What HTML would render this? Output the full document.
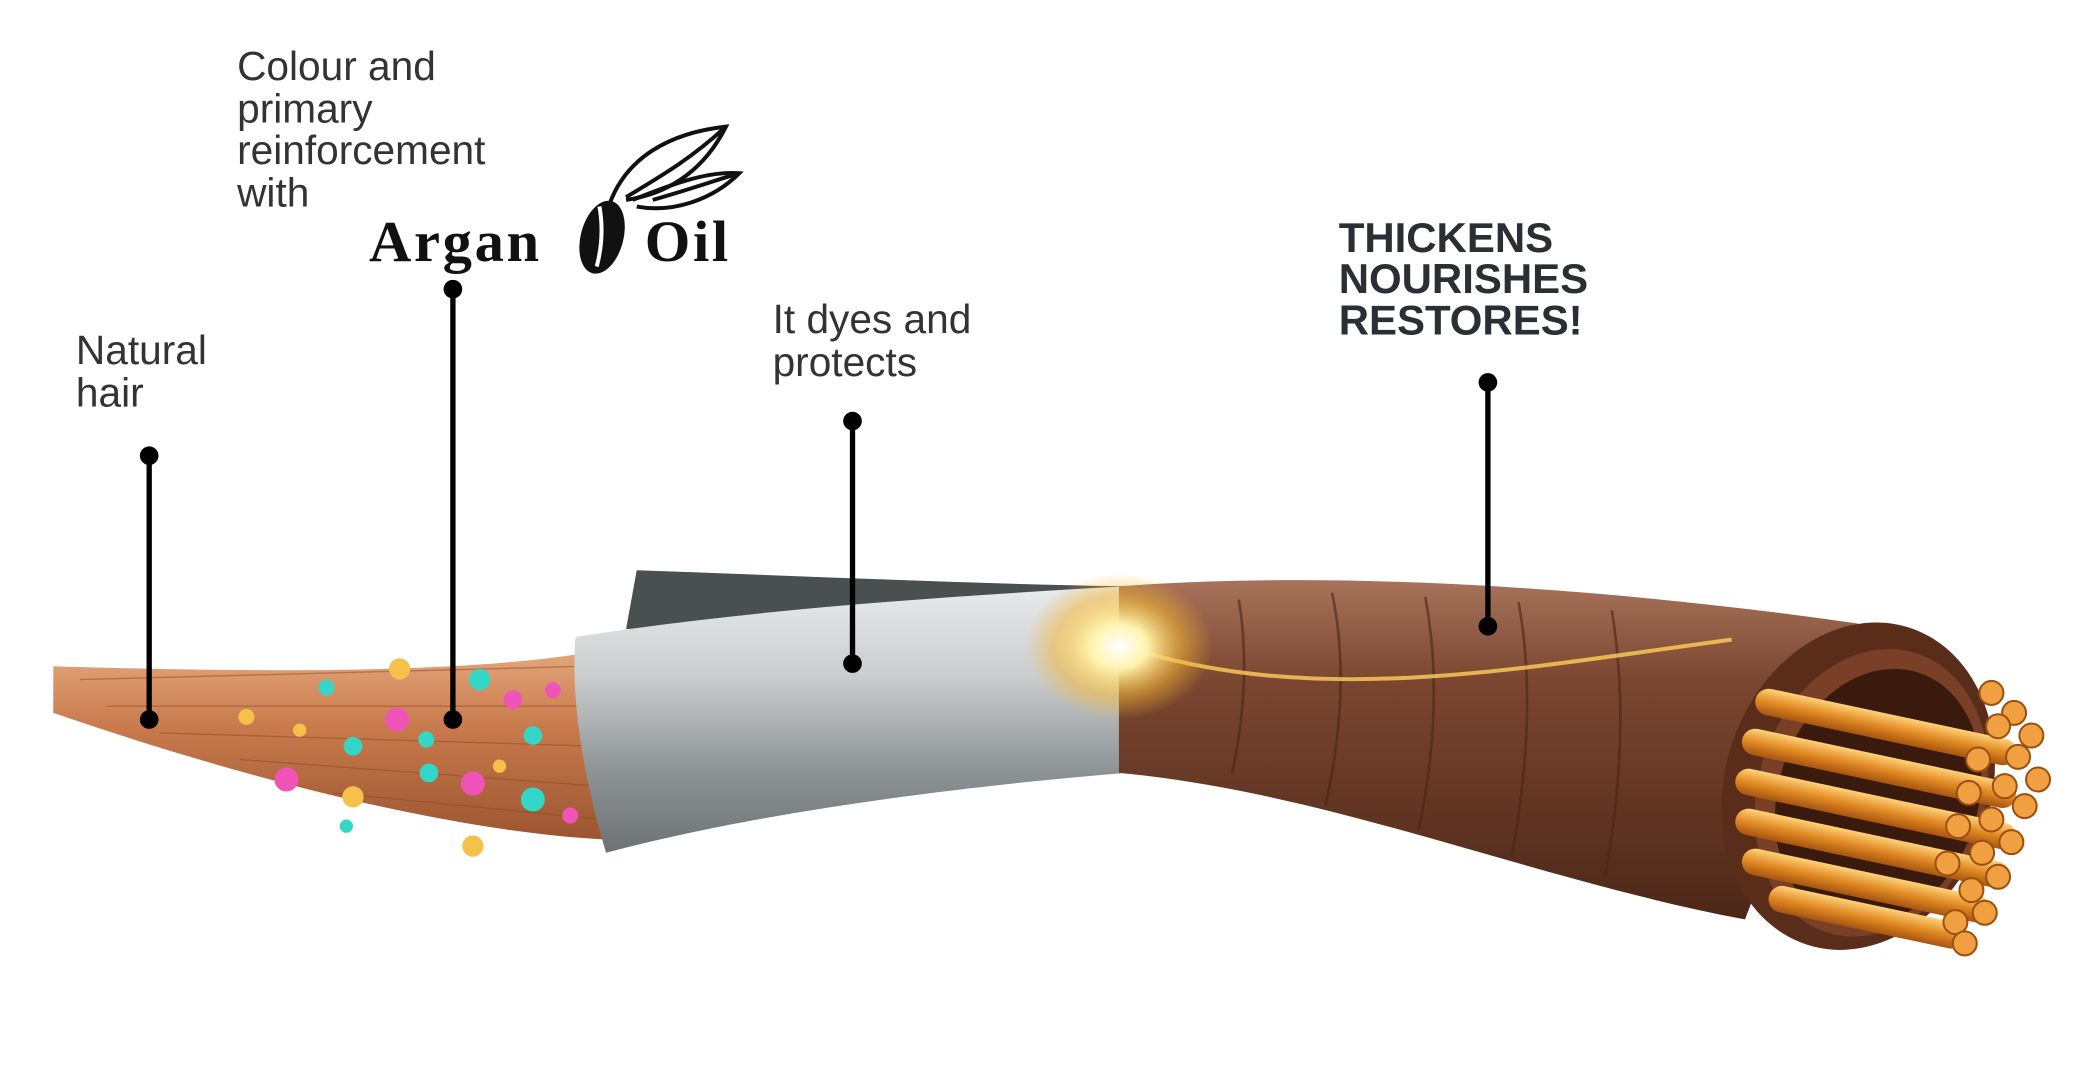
<!DOCTYPE html>
<html><head><meta charset="utf-8"><style>
html,body{margin:0;padding:0;background:#fff;}
svg{display:block}
</style></head><body>
<svg width="2078" height="1066" viewBox="0 0 1560 800" preserveAspectRatio="none" xmlns="http://www.w3.org/2000/svg">
<defs>
<linearGradient id="hair" x1="0" y1="0" x2="0" y2="1">
<stop offset="0" stop-color="#e3a57a"/><stop offset="0.4" stop-color="#c87a4c"/><stop offset="1" stop-color="#9b5530"/></linearGradient>
<linearGradient id="silver" x1="0" y1="0" x2="0" y2="1">
<stop offset="0" stop-color="#e8eaeb"/><stop offset="0.35" stop-color="#c9cccd"/><stop offset="0.7" stop-color="#8d9294"/><stop offset="1" stop-color="#6d7274"/></linearGradient>
<linearGradient id="brown" x1="0" y1="0" x2="0" y2="1">
<stop offset="0" stop-color="#a8735a"/><stop offset="0.3" stop-color="#7a4630"/><stop offset="1" stop-color="#4c2718"/></linearGradient>
<radialGradient id="glow" cx="0.5" cy="0.5" r="0.5">
<stop offset="0" stop-color="#fff"/><stop offset="0.3" stop-color="#fff4b0"/><stop offset="0.7" stop-color="#f5b730" stop-opacity="0.5"/><stop offset="1" stop-color="#f5b730" stop-opacity="0"/></radialGradient>
<linearGradient id="gold" x1="0" y1="0" x2="0" y2="1">
<stop offset="0" stop-color="#ffd37a"/><stop offset="0.5" stop-color="#e28b25"/><stop offset="1" stop-color="#a8550f"/></linearGradient>
</defs>

<path d="M40,500 C200,505 350,505 440,490 L455,630 C350,625 200,590 40,535 Z" fill="url(#hair)"/>
<g stroke="#8a4a25" stroke-width="1" opacity="0.5">
<path d="M60,510 L440,500"/><path d="M80,530 L445,530"/><path d="M120,550 L448,560"/><path d="M180,570 L450,590"/><path d="M250,595 L452,615"/>
</g>
<path d="M478,428 C600,432 720,438 845,440 L830,458 C700,458 580,468 470,472 Z" fill="#4a4f50"/>
<path d="M432,478 C560,458 700,448 845,440 L845,580 C700,592 560,612 455,640 C440,590 428,530 432,478 Z" fill="url(#silver)"/>
<path d="M840,440 C1000,428 1200,440 1395,468 L1310,690 C1150,660 1000,595 840,580 Z" fill="url(#brown)"/>
<g stroke="#4a2515" stroke-width="2" fill="none" opacity="0.6">
<path d="M930,450 q10,60 -5,130"/><path d="M1000,445 q15,70 -5,160"/><path d="M1070,448 q15,80 -5,175"/><path d="M1140,452 q15,80 -5,190"/><path d="M1210,458 q15,90 -5,200"/>
</g>
<path d="M860,490 C1000,530 1150,500 1300,480" stroke="#ffcf5a" stroke-width="3" fill="none" opacity="0.8"/>
<ellipse cx="1395" cy="590" rx="100" ry="125" transform="rotate(18 1395 590)" fill="#5a2d1a"/>
<ellipse cx="1405" cy="595" rx="85" ry="110" transform="rotate(18 1405 595)" fill="#7a4027"/>
<ellipse cx="1410" cy="598" rx="75" ry="98" transform="rotate(18 1410 598)" fill="#3a1a0d"/>
<g fill="url(#gold)">
<rect x="1320" y="515" width="200" height="20" rx="10" transform="rotate(12 1320 515)"/>
<rect x="1310" y="545" width="210" height="20" rx="10" transform="rotate(12 1310 545)"/>
<rect x="1305" y="575" width="215" height="20" rx="10" transform="rotate(12 1305 575)"/>
<rect x="1305" y="605" width="210" height="20" rx="10" transform="rotate(12 1305 605)"/>
<rect x="1310" y="635" width="190" height="20" rx="10" transform="rotate(12 1310 635)"/>
<rect x="1330" y="663" width="150" height="20" rx="10" transform="rotate(12 1330 663)"/>
</g>
<g fill="#f0a040" stroke="#9a4f10" stroke-width="1.5">
<circle cx="1495" cy="520" r="9"/><circle cx="1512" cy="535" r="9"/><circle cx="1525" cy="552" r="9"/><circle cx="1500" cy="545" r="9"/>
<circle cx="1515" cy="568" r="9"/><circle cx="1530" cy="585" r="9"/><circle cx="1505" cy="590" r="9"/><circle cx="1520" cy="605" r="9"/>
<circle cx="1495" cy="615" r="9"/><circle cx="1510" cy="632" r="9"/><circle cx="1488" cy="640" r="9"/><circle cx="1500" cy="658" r="9"/>
<circle cx="1480" cy="668" r="9"/><circle cx="1490" cy="685" r="9"/><circle cx="1468" cy="692" r="9"/><circle cx="1475" cy="708" r="9"/>
<circle cx="1485" cy="570" r="9"/><circle cx="1478" cy="595" r="9"/><circle cx="1470" cy="620" r="9"/><circle cx="1462" cy="648" r="9"/>
</g>
<ellipse cx="840" cy="485" rx="70" ry="55" fill="url(#glow)"/>
<g>
<circle cx="300" cy="502" r="8" fill="#f6c14a"/><circle cx="360" cy="510" r="8" fill="#34d6c8"/><circle cx="245" cy="516" r="6" fill="#34d6c8"/>
<circle cx="185" cy="538" r="6" fill="#f6c14a"/><circle cx="298" cy="540" r="9" fill="#f054b8"/><circle cx="385" cy="525" r="7" fill="#f054b8"/>
<circle cx="415" cy="518" r="6" fill="#f054b8"/><circle cx="265" cy="560" r="7" fill="#34d6c8"/><circle cx="320" cy="555" r="6" fill="#34d6c8"/>
<circle cx="215" cy="585" r="9" fill="#f054b8"/><circle cx="355" cy="588" r="9" fill="#f054b8"/><circle cx="400" cy="552" r="7" fill="#34d6c8"/>
<circle cx="265" cy="598" r="8" fill="#f6c14a"/><circle cx="400" cy="600" r="9" fill="#34d6c8"/><circle cx="428" cy="612" r="6" fill="#f054b8"/>
<circle cx="355" cy="635" r="8" fill="#f6c14a"/><circle cx="260" cy="620" r="5" fill="#34d6c8"/><circle cx="225" cy="548" r="5" fill="#f6c14a"/>
<circle cx="322" cy="580" r="7" fill="#34d6c8"/><circle cx="375" cy="575" r="5" fill="#f6c14a"/>
</g>
<g stroke="#000" stroke-width="4">
<line x1="112" y1="342" x2="112" y2="540"/><line x1="340" y1="217" x2="340" y2="540"/>
<line x1="640" y1="316" x2="640" y2="498"/><line x1="1117" y1="287" x2="1117" y2="470"/>
</g>
<g fill="#000">
<circle cx="112" cy="342" r="7"/><circle cx="112" cy="540" r="7"/><circle cx="340" cy="217" r="7"/><circle cx="340" cy="540" r="7"/>
<circle cx="640" cy="316" r="7"/><circle cx="640" cy="498" r="7"/><circle cx="1117" cy="287" r="7"/><circle cx="1117" cy="470" r="7"/>
</g>
<g font-family="Liberation Sans, sans-serif" font-size="30.5" fill="#333">
<text x="178" y="60">Colour and</text><text x="178" y="92">primary</text><text x="178" y="123">reinforcement</text><text x="178" y="155">with</text>
<text x="57" y="273">Natural</text><text x="57" y="305">hair</text>
<text x="580" y="250">It dyes and</text><text x="580" y="282">protects</text>
</g>
<g font-family="Liberation Sans, sans-serif" font-size="31.5" font-weight="bold" fill="#2a2f33">
<text x="1005" y="189">THICKENS</text><text x="1005" y="220">NOURISHES</text><text x="1005" y="251">RESTORES!</text>
</g>
<g font-family="Liberation Serif, serif" font-size="44" font-weight="bold" fill="#111" letter-spacing="2">
<text x="277" y="196">Argan</text><text x="484" y="196">Oil</text>
</g>
<ellipse cx="452" cy="178" rx="16" ry="28" transform="rotate(15 452 178)" fill="#111"/>
<path d="M450,155 q4,22 -2,45" stroke="#fff" stroke-width="3" fill="none"/>
<g stroke="#111" stroke-width="3" fill="none">
<path d="M458,152 C470,120 500,100 545,95 C530,125 505,145 470,150"/>
<path d="M470,148 C500,130 520,118 545,95"/>
<path d="M475,150 C500,140 530,128 555,130 C535,150 505,160 478,155"/>
<path d="M490,150 C515,143 535,136 555,130"/>
</g>
</svg>
</body></html>
